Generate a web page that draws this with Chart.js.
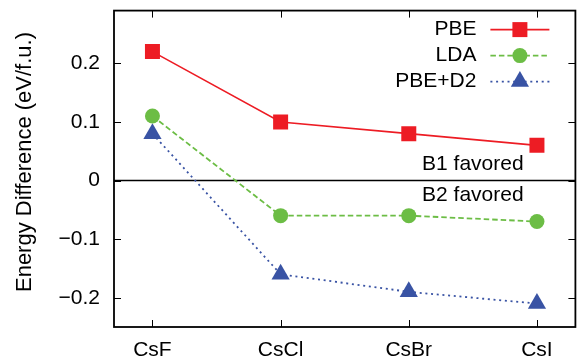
<!DOCTYPE html>
<html>
<head>
<meta charset="utf-8">
<script src="https://cdn.jsdelivr.net/npm/chart.js@4/dist/chart.umd.min.js"></script>
<style>
  html, body { margin: 0; padding: 0; background: #fff; }
  #wrap { width: 586px; height: 362px; }
</style>
</head>
<body>
<div id="wrap"><canvas id="c" width="586" height="362"></canvas></div>
<script>
// data
const compounds = ["CsF", "CsCl", "CsBr", "CsI"];
const pbe = [0.22, 0.10, 0.08, 0.06];
const lda = [0.11, -0.06, -0.06, -0.07];
const pbeD2 = [0.08, -0.16, -0.19, -0.21];
const yTicks = [-0.2, -0.1, 0, 0.1, 0.2];
const yTitle = "Energy Difference (eV/f.u.)";
const notes = ["B1 favored", "B2 favored"];

const FONT = "'Liberation Sans', Arial, Helvetica, sans-serif";
const RED = "#ed1c24", GREEN = "#6cbd45", BLUE = "#3953a4";

function pts(arr) {
  return arr.map((v, i) => ({ x: i, y: v }));
}
function fmtY(v) {
  if (Math.abs(v) < 1e-9) return "0";
  return (v < 0 ? "\u2212" : "") + Math.abs(v).toFixed(1);
}

function marker(ctx, style, r, x, y, color) {
  ctx.save();
  ctx.fillStyle = color;
  ctx.beginPath();
  if (style === "rect") {
    const s = Math.SQRT1_2 * r;
    ctx.rect(x - s, y - s, 2 * s, 2 * s);
  } else if (style === "circle") {
    ctx.arc(x, y, r, 0, Math.PI * 2);
  } else {
    ctx.moveTo(x, y - r);
    ctx.lineTo(x + r * Math.sin(Math.PI / 3), y + r / 2);
    ctx.lineTo(x - r * Math.sin(Math.PI / 3), y + r / 2);
    ctx.closePath();
  }
  ctx.fill();
  ctx.restore();
}

// frame, inward ticks, zero line, notes, y title and the key
const decor = {
  id: "decor",
  beforeDatasetsDraw(chart) {
    const { ctx, chartArea: a, scales } = chart;
    const y0 = scales.y.getPixelForValue(0);
    ctx.save();
    ctx.strokeStyle = "#000";
    ctx.lineWidth = 1.5;
    ctx.beginPath();
    ctx.moveTo(a.left, y0);
    ctx.lineTo(a.right, y0);
    ctx.stroke();
    ctx.restore();
  },
  afterDraw(chart) {
    const { ctx, chartArea: a, scales } = chart;
    ctx.save();
    ctx.strokeStyle = "#000";
    ctx.lineWidth = 1;
    const tl = 7;
    ctx.beginPath();
    scales.x.ticks.forEach(t => {
      const px = Math.round(scales.x.getPixelForValue(t.value)) + 0.5;
      ctx.moveTo(px, a.top); ctx.lineTo(px, a.top + tl);
      ctx.moveTo(px, a.bottom); ctx.lineTo(px, a.bottom - tl);
    });
    scales.y.ticks.forEach(t => {
      const py = Math.round(scales.y.getPixelForValue(t.value)) + 0.5;
      ctx.moveTo(a.left, py); ctx.lineTo(a.left + tl, py);
      ctx.moveTo(a.right, py); ctx.lineTo(a.right - tl, py);
    });
    ctx.stroke();
    ctx.lineWidth = 1.8;
    ctx.strokeRect(a.left, a.top, a.right - a.left, a.bottom - a.top);

    ctx.fillStyle = "#000";
    ctx.textBaseline = "middle";

    // y title
    ctx.save();
    ctx.font = "22px " + FONT;
    ctx.textAlign = "center";
    ctx.translate(25, 162);
    ctx.rotate(-Math.PI / 2);
    ctx.fillText(yTitle, 0, 0);
    ctx.restore();

    // B1 / B2 notes
    ctx.font = "21px " + FONT;
    ctx.textAlign = "center";
    const nx = scales.x.getPixelForValue(2.5);
    ctx.fillText(notes[0], nx, scales.y.getPixelForValue(0.027));
    ctx.fillText(notes[1], nx, scales.y.getPixelForValue(-0.025));

    // key
    const textRight = a.right - 99, x1 = a.right - 85, x2 = a.right - 26;
    chart.data.datasets.forEach((ds, i) => {
      const ky = a.top + 19 + i * 26;
      ctx.fillStyle = "#000";
      ctx.textAlign = "right";
      ctx.fillText(ds.label, textRight, ky);
      ctx.save();
      ctx.strokeStyle = ds.borderColor;
      ctx.lineWidth = ds.borderWidth;
      ctx.setLineDash(ds.borderDash || []);
      ctx.beginPath();
      ctx.moveTo(x1, ky); ctx.lineTo(x2, ky);
      ctx.stroke();
      ctx.restore();
      marker(ctx, ds.pointStyle, ds.pointRadius, (x1 + x2) / 2, ky, ds.borderColor);
    });
    ctx.restore();
  }
};

new Chart(document.getElementById("c"), {
  type: "line",
  data: {
    datasets: [
      { label: "PBE", data: pts(pbe), borderColor: RED, backgroundColor: RED,
        borderWidth: 1.6, pointStyle: "rect", pointRadius: 10.6, pointBorderWidth: 0 },
      { label: "LDA", data: pts(lda), borderColor: GREEN, backgroundColor: GREEN,
        borderWidth: 1.8, borderDash: [5.5, 3], pointStyle: "circle", pointRadius: 7.5, pointBorderWidth: 0 },
      { label: "PBE+D2", data: pts(pbeD2), borderColor: BLUE, backgroundColor: BLUE,
        borderWidth: 1.8, borderDash: [2, 3.7], pointStyle: "triangle", pointRadius: 10.5, pointBorderWidth: 0 }
    ]
  },
  options: {
    responsive: false,
    animation: false,
    layout: { padding: { top: 8, right: 4, left: 0, bottom: 0 } },
    plugins: { legend: { display: false }, tooltip: { enabled: false } },
    scales: {
      x: {
        type: "linear",
        min: -0.3, max: 3.3,
        grid: { display: false, drawTicks: false },
        border: { display: false },
        afterBuildTicks: s => { s.ticks = compounds.map((c, i) => ({ value: i })); },
        afterFit: s => { s.height = 35; s.paddingLeft = 0; s.paddingRight = 0; },
        ticks: {
          padding: 11,
          color: "#000",
          font: { family: FONT, size: 21 },
          callback: v => compounds[v]
        }
      },
      y: {
        min: -0.25, max: 0.29,
        grid: { display: false, drawTicks: false },
        border: { display: false },
        afterBuildTicks: s => { s.ticks = yTicks.map(v => ({ value: v })); },
        afterFit: s => { s.width = 114; s.paddingTop = 0; s.paddingBottom = 0; },
        ticks: {
          padding: 14,
          color: "#000",
          font: { family: FONT, size: 21 },
          callback: v => fmtY(v)
        }
      }
    }
  },
  plugins: [decor]
});
</script>
</body>
</html>
